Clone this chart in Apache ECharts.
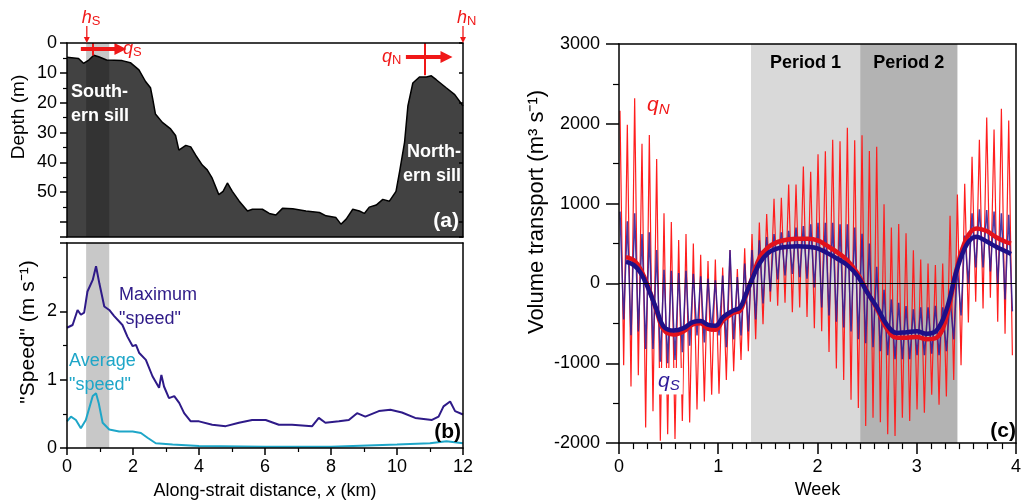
<!DOCTYPE html>
<html>
<head>
<meta charset="utf-8">
<script src="https://cdn.jsdelivr.net/npm/echarts@6/dist/echarts.min.js"></script>
<style>
  html, body { margin: 0; padding: 0; background: #fff; }
  #chart { width: 1024px; height: 504px; }
</style>
</head>
<body>
<div id="chart"></div>
<script>
// (a) bottom profile along the strait
const PROFILE_KM = [0, 0.35, 0.5, 0.66, 0.81, 0.96, 1.2, 1.67, 1.92, 2.18, 2.38, 2.53, 2.6, 2.68, 2.89, 3.14, 3.29, 3.39, 3.6, 3.75, 3.9, 4.1, 4.25, 4.4, 4.6, 4.73, 4.86, 5.01, 5.22, 5.47, 5.62, 5.92, 6.13, 6.33, 6.53, 6.84, 7.24, 7.65, 7.85, 8.15, 8.3, 8.46, 8.66, 8.86, 9.01, 9.16, 9.37, 9.57, 9.77, 9.97, 10.08, 10.23, 10.33, 10.48, 10.68, 10.89, 11.04, 11.19, 11.49, 11.75, 12];
const PROFILE_DEPTH = [4.8, 5.2, 6.8, 5.7, 4.1, 4.6, 5.7, 5.9, 6.6, 9.0, 12.9, 15, 18.9, 23.8, 26.6, 28.8, 31, 35.9, 34.3, 34.8, 37.6, 40.9, 42.5, 45.3, 50.8, 49.7, 46.9, 49.7, 53, 56.3, 55.7, 55.7, 57.1, 57.6, 55.4, 55.5, 56.3, 56.8, 57.9, 58.5, 60.7, 59, 55.7, 56.3, 57.1, 55, 54.3, 52.4, 53, 49.7, 43, 33.2, 21.1, 13.4, 11.4, 11.4, 11, 12.3, 15, 17.3, 21.1];
const SILL_BAND = [0.58, 1.28];

// (b) speeds
const MAX_KM = [0, 0.17, 0.32, 0.42, 0.52, 0.62, 0.78, 0.88, 0.98, 1.13, 1.28, 1.43, 1.68, 1.83, 1.99, 2.09, 2.19, 2.39, 2.59, 2.79, 2.86, 2.94, 3.09, 3.25, 3.4, 3.55, 3.75, 4.0, 4.4, 4.81, 5.21, 5.61, 6.02, 6.42, 6.82, 7.43, 7.63, 7.83, 8.24, 8.54, 8.79, 9.04, 9.45, 9.8, 10.15, 10.55, 11.06, 11.26, 11.41, 11.61, 11.76, 12];
const MAX_SPEED = [1.76, 1.8, 2.02, 1.95, 1.98, 2.29, 2.46, 2.66, 2.41, 2.07, 2.02, 1.93, 1.8, 1.63, 1.49, 1.51, 1.39, 1.29, 1.05, 0.88, 1.07, 0.9, 0.73, 0.76, 0.66, 0.51, 0.39, 0.39, 0.34, 0.32, 0.37, 0.41, 0.41, 0.34, 0.34, 0.32, 0.44, 0.37, 0.39, 0.41, 0.51, 0.46, 0.54, 0.56, 0.52, 0.44, 0.41, 0.46, 0.61, 0.68, 0.54, 0.49];
const AVG_KM = [0, 0.12, 0.27, 0.42, 0.57, 0.78, 0.88, 0.96, 1.08, 1.28, 1.58, 1.99, 2.24, 2.44, 2.69, 3.2, 4, 6, 8, 10, 11, 11.5, 12];
const AVG_SPEED = [0.39, 0.46, 0.41, 0.29, 0.41, 0.76, 0.8, 0.66, 0.37, 0.27, 0.24, 0.24, 0.22, 0.15, 0.07, 0.05, 0.03, 0.02, 0.02, 0.05, 0.07, 0.1, 0.07];

// (c) volume transport: tidal highs and lows, one pair per semidiurnal cycle
const FIRST_HIGH_WEEK = 0.01;
const TIDE_WEEKS = 0.0739;
const QN_HIGH = [2165, 1988, 2320, 1750, 1860, 1560, 880, 770, 545, 620, 500, 360, 280, 300, 200, 420, 180, 440, 620, 765, 870, 1060, 1074, 1239, 1239, 1465, 1400, 1620, 1655, 1800, 1780, 1950, 1794, 1856, 1660, 1712, 992, 700, 745, 630, 416, 300, 250, 230, 251, 848, 1115, 1250, 1588, 1800, 2080, 1930, 2190, 2040];
const QN_LOW = [-1025, -1292, -1150, -1805, -1601, -1971, -1889, -1950, -1724, -1741, -1580, -1478, -1395, -1380, -1210, -1100, -960, -850, -700, -510, -230, -280, -240, -360, -300, -420, -560, -600, -860, -1066, -1210, -1457, -1560, -1786, -1683, -1740, -1889, -1910, -1683, -1724, -1580, -1621, -1395, -1518, -1416, -1210, -1025, -490, -230, -315, -180, -480, -630, -900];
const QS_HIGH = [900, 780, 880, 620, 640, 420, 170, 160, 130, 160, 120, 90, 60, 40, 100, 420, 80, 250, 420, 540, 580, 620, 640, 660, 700, 720, 740, 760, 760, 760, 740, 740, 700, 621, 500, 210, -80, -200, -243, -284, -325, -300, -300, -280, -300, -200, 200, 600, 880, 930, 920, 900, 880, 860];
const QS_LOW = [-450, -650, -600, -820, -820, -980, -1000, -960, -860, -780, -650, -740, -600, -650, -800, -700, -650, -600, -450, -250, -100, 50, 100, 120, 80, 60, -50, -300, -400, -480, -550, -600, -700, -750, -800, -850, -900, -950, -950, -950, -900, -900, -880, -900, -850, -700, -400, 0, 200, 200, 150, 0, -200, -350];
// tidally averaged transports
const MEAN_WEEK = [0.07, 0.15, 0.22, 0.3, 0.38, 0.45, 0.55, 0.65, 0.75, 0.82, 0.9, 0.97, 1.05, 1.15, 1.22, 1.28, 1.35, 1.42, 1.5, 1.6, 1.7, 1.8, 1.9, 2.0, 2.1, 2.2, 2.3, 2.4, 2.5, 2.6, 2.7, 2.8, 2.9, 3.0, 3.1, 3.2, 3.3, 3.4, 3.5, 3.6, 3.7, 3.8, 3.9, 3.95];
const QS_MEAN = [270, 230, 130, -80, -330, -540, -590, -560, -480, -470, -520, -530, -420, -340, -300, -130, 80, 260, 380, 440, 460, 465, 460, 440, 380, 310, 230, 100, -110, -300, -520, -620, -610, -600, -630, -590, -330, 150, 480, 585, 530, 460, 400, 370];
const QN_MEAN = [330, 290, 170, -60, -350, -580, -640, -600, -510, -500, -570, -580, -460, -370, -340, -150, 100, 330, 450, 520, 550, 560, 560, 540, 470, 390, 290, 130, -100, -320, -570, -680, -680, -670, -700, -680, -420, 170, 560, 690, 660, 580, 520, 500];
const PERIODS = [['Period 1', 1.33, 2.43, '#d9d9d9'], ['Period 2', 2.43, 3.41, '#b3b3b3']];

const FONT = '"Liberation Sans", Arial, sans-serif';
const RED = '#f01818';
const zip = (xs, ys) => xs.map((x, i) => [x, ys[i]]);
const tidal = (hi, lo) => {
    const out = [];
    hi.forEach((h, k) => {
        const t = FIRST_HIGH_WEEK + k * TIDE_WEEKS;
        out.push([t, h]);
        out.push([t + TIDE_WEEKS / 2, lo[k]]);
    });
    return out;
};

const black = { color: '#000', width: 1.5 };
const frameX = (grid, pos) => ({
    gridIndex: grid, type: 'value', position: pos, z: 5,
    axisLine: { onZero: false, lineStyle: black },
    axisTick: { show: false }, axisLabel: { show: false }, splitLine: { show: false }
});
const frameY = (grid, extra) => Object.assign({
    gridIndex: grid, type: 'value', position: 'right', z: 5,
    axisLine: { show: true, onZero: false, lineStyle: black },
    axisTick: { show: false }, axisLabel: { show: false }, splitLine: { show: false }
}, extra);
const lbl = { fontSize: 18, color: '#000', fontFamily: FONT };
const minor = (n, len) => ({ show: true, splitNumber: n, length: len, lineStyle: { color: '#000', width: 1.2 } });
const redLine = (w) => ({ color: RED, width: w, type: 'solid' });

const chart = echarts.init(document.getElementById('chart'));
chart.setOption({
    animation: false,
    backgroundColor: '#fff',
    textStyle: { fontFamily: FONT },
    grid: [
        { left: 67, top: 43, width: 396, height: 194 },
        { left: 67, top: 243, width: 396, height: 205 },
        { left: 619, top: 44, width: 404, height: 405 }
    ],
    xAxis: [
        Object.assign(frameX(0, 'bottom'), { min: 0, max: 12, interval: 2 }),
        Object.assign(frameX(0, 'top'), { min: 0, max: 12, interval: 2 }),
        {
            gridIndex: 1, type: 'value', min: 0, max: 12, interval: 2, z: 5,
            axisLine: { onZero: false, lineStyle: black },
            axisTick: { length: 7, lineStyle: black },
            minorTick: minor(2, 4),
            splitLine: { show: false },
            axisLabel: Object.assign({ margin: 10 }, lbl),
            name: '{n|Along-strait distance, }{i|x}{n| (km)}',
            nameLocation: 'middle', nameGap: 34,
            nameTextStyle: { rich: { n: { fontSize: 18, color: '#000' }, i: { fontSize: 18, color: '#000', fontStyle: 'italic' } } }
        },
        Object.assign(frameX(1, 'top'), { min: 0, max: 12 }),
        {
            gridIndex: 2, type: 'value', min: 0, max: 4, interval: 1, z: 5,
            axisLine: { onZero: false, lineStyle: black },
            axisTick: { length: 11, lineStyle: black },
            minorTick: minor(7, 6),
            splitLine: { show: false },
            axisLabel: Object.assign({ margin: 15 }, lbl),
            name: 'Week', nameLocation: 'middle', nameGap: 34,
            nameTextStyle: { fontSize: 18, color: '#000' }
        },
        Object.assign(frameX(2, 'top'), { min: 0, max: 4 })
    ],
    yAxis: [
        {
            gridIndex: 0, type: 'value', inverse: true, min: 0, max: 65, interval: 10, z: 5,
            axisLine: { show: true, onZero: false, lineStyle: black },
            axisTick: { length: 7, lineStyle: black },
            minorTick: minor(2, 4),
            splitLine: { show: false },
            axisLabel: Object.assign({ margin: 10, formatter: v => (v <= 50 ? v : '') }, lbl)
        },
        frameY(0, { inverse: true, min: 0, max: 65, interval: 10, axisTick: { show: true, inside: true, length: 4, lineStyle: black } }),
        {
            gridIndex: 1, type: 'value', min: 0, max: 3, interval: 1, z: 5,
            axisLine: { show: true, onZero: false, lineStyle: black },
            axisTick: { length: 7, lineStyle: black },
            minorTick: minor(2, 4),
            splitLine: { show: false },
            axisLabel: Object.assign({ margin: 10, formatter: v => (v < 3 ? v : '') }, lbl)
        },
        frameY(1, { min: 0, max: 3 }),
        {
            gridIndex: 2, type: 'value', min: -2000, max: 3000, interval: 1000, z: 5,
            axisLine: { show: true, onZero: false, lineStyle: black },
            axisTick: { length: 13, lineStyle: black },
            minorTick: minor(2, 6),
            splitLine: { show: false },
            axisLabel: Object.assign({ margin: 19, formatter: v => String(v) }, lbl)
        },
        frameY(2, { min: -2000, max: 3000 })
    ],
    series: [
        {
            name: 'bottom', type: 'line', xAxisIndex: 0, yAxisIndex: 0, z: 2,
            data: zip(PROFILE_KM, PROFILE_DEPTH), symbol: 'none',
            lineStyle: { color: '#000', width: 1.5 },
            areaStyle: { color: '#424242', opacity: 1, origin: 'end' }
        },
        {
            name: 'sill band a', type: 'line', xAxisIndex: 0, yAxisIndex: 0, z: 3,
            data: [[SILL_BAND[0], 0], [SILL_BAND[1], 0]], symbol: 'none',
            lineStyle: { opacity: 0 },
            markArea: {
                silent: true, z: 4, itemStyle: { color: 'rgba(0,0,0,0.22)' },
                data: [[{ xAxis: SILL_BAND[0] }, { xAxis: SILL_BAND[1] }]]
            },
            markLine: {
                silent: true, animation: false, label: { show: false },
                data: [
                    [{ coord: [0.42, 2.0], symbol: 'none', lineStyle: redLine(4) },
                     { coord: [1.62, 2.0], symbol: 'triangle', symbolSize: [12, 12], symbolRotate: -90 }],
                    [{ coord: [0.79, 0], symbol: 'none', lineStyle: redLine(2) },
                     { coord: [0.79, 4.2], symbol: 'none' }],
                    [{ coord: [10.27, 4.7], symbol: 'none', lineStyle: redLine(4) },
                     { coord: [11.5, 4.7], symbol: 'triangle', symbolSize: [12, 12], symbolRotate: -90 }],
                    [{ coord: [10.85, 0], symbol: 'none', lineStyle: redLine(2) },
                     { coord: [10.85, 10.8], symbol: 'none' }]
                ]
            }
        },
        {
            name: 'Maximum', type: 'line', xAxisIndex: 2, yAxisIndex: 2, z: 3,
            data: zip(MAX_KM, MAX_SPEED), symbol: 'none',
            lineStyle: { color: '#2e1a88', width: 2 },
            markArea: {
                silent: true, itemStyle: { color: '#c8c8c8' },
                data: [[{ xAxis: SILL_BAND[0] }, { xAxis: SILL_BAND[1] }]]
            }
        },
        {
            name: 'Average', type: 'line', xAxisIndex: 2, yAxisIndex: 2, z: 3,
            data: zip(AVG_KM, AVG_SPEED), symbol: 'none',
            lineStyle: { color: '#1ea6c8', width: 2 }
        },
        {
            name: 'qN', type: 'line', xAxisIndex: 4, yAxisIndex: 4, z: 2,
            data: tidal(QN_HIGH, QN_LOW), symbol: 'none',
            lineStyle: { color: '#ff1e1e', width: 1.2 },
            markArea: {
                silent: true,
                label: { show: true, position: 'insideTop', distance: 10, fontSize: 18, fontWeight: 'bold', color: '#000' },
                data: PERIODS.map(p => [{ name: p[0], xAxis: p[1], itemStyle: { color: p[3] } }, { xAxis: p[2] }])
            }
        },
        {
            name: 'qS', type: 'line', xAxisIndex: 4, yAxisIndex: 4, z: 3,
            data: tidal(QS_HIGH, QS_LOW), symbol: 'none',
            lineStyle: { color: 'rgba(40,26,150,0.85)', width: 1.5 },
            markLine: {
                silent: true, symbol: 'none', label: { show: false },
                lineStyle: { color: '#000', width: 1, type: 'solid' },
                data: [{ yAxis: 0 }]
            }
        },
        {
            name: 'qN mean', type: 'line', xAxisIndex: 4, yAxisIndex: 4, z: 4,
            data: zip(MEAN_WEEK, QN_MEAN), symbol: 'none', smooth: 0.4,
            lineStyle: { color: '#e3121c', width: 4.5 }
        },
        {
            name: 'qS mean', type: 'line', xAxisIndex: 4, yAxisIndex: 4, z: 4,
            data: zip(MEAN_WEEK, QS_MEAN), symbol: 'none', smooth: 0.4,
            lineStyle: { color: '#1e1088', width: 4.5 }
        }
    ]
});

// annotations and axis titles
const sub = (main, s, color, size, subItalic) => ({
    text: '{m|' + main + '}{s|' + s + '}',
    fill: color,
    rich: {
        m: { fontSize: size, fontStyle: 'italic', fill: color, fontFamily: FONT },
        s: { fontSize: size * 0.72, fontStyle: subItalic ? 'italic' : 'normal', fill: color, fontFamily: FONT, verticalAlign: 'bottom', padding: [size * 0.45, 0, 0, 0] }
    }
});
const hS = chart.convertToPixel({ seriesIndex: 0 }, [SILL_BAND[0] + 0.02, 0]);
const hN = chart.convertToPixel({ seriesIndex: 0 }, [12, 0]);
const downArrow = (p) => [
    { type: 'line', z: 100, shape: { x1: p[0], y1: p[1] - 17, x2: p[0], y2: p[1] - 4 }, style: { stroke: RED, lineWidth: 1.3 } },
    { type: 'polygon', z: 100, shape: { points: [[p[0] - 3, p[1] - 6], [p[0] + 3, p[1] - 6], [p[0], p[1]]] }, style: { fill: RED } }
];
const txt = (x, y, style) => ({ type: 'text', z: 100, x: x, y: y, style: Object.assign({ fontFamily: FONT, fontSize: 18 }, style) });
const vtitle = (x, y, text, size) => ({
    type: 'text', z: 100, x: x, y: y, rotation: Math.PI / 2,
    style: { text: text, fontFamily: FONT, fontSize: size, fill: '#000', align: 'center', verticalAlign: 'middle' }
});
const white = { fill: '#fff', fontWeight: 'bold', fontSize: 18, lineHeight: 24 };
const tag = (fill) => ({ fill: fill, fontWeight: 'bold', fontSize: 21, align: 'right', verticalAlign: 'middle' });

chart.setOption({
    graphic: [].concat(
        downArrow(hS), downArrow(hN),
        [
            vtitle(19, 117, 'Depth (m)', 19),
            vtitle(28, 332, '"Speed" (m s⁻¹)', 21),
            vtitle(537, 212, 'Volume transport (m³ s⁻¹)', 22),
            txt(hS[0] - 5, 7, sub('h', 'S', RED, 18, false)),
            txt(hN[0] - 6, 7, sub('h', 'N', RED, 18, false)),
            txt(123, 38, sub('q', 'S', RED, 18, false)),
            txt(382, 46, sub('q', 'N', RED, 18, false)),
            txt(71, 80, Object.assign({ text: 'South-\nern sill' }, white)),
            txt(461, 140, Object.assign({ text: 'North-\nern sill', align: 'right' }, white)),
            txt(459, 221, Object.assign({ text: '(a)' }, tag('#fff'))),
            txt(461, 432, Object.assign({ text: '(b)' }, tag('#000'))),
            txt(119, 283, { text: 'Maximum\n"speed"', fill: '#2e1a88', lineHeight: 24 }),
            txt(69, 349, { text: 'Average\n"speed"', fill: '#1ea6c8', lineHeight: 24 }),
            txt(1016, 431, Object.assign({ text: '(c)' }, tag('#000'))),
            txt(645, 92, Object.assign(sub('q', 'N', RED, 21, true), { backgroundColor: '#fff', padding: [1, 2] })),
            txt(655, 368, Object.assign(sub('q', 'S', '#2e1a98', 21, true), { backgroundColor: '#fff', padding: [1, 3] }))
        ]
    )
});
</script>
</body>
</html>
